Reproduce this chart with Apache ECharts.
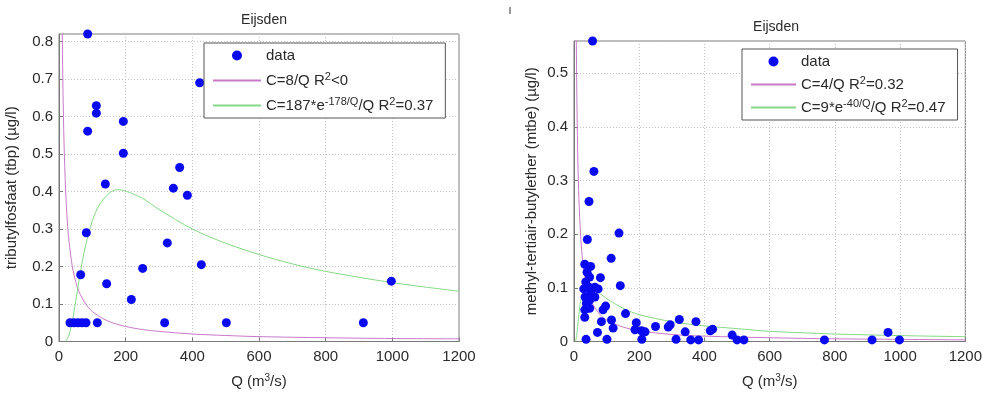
<!DOCTYPE html>
<html>
<head>
<meta charset="utf-8">
<script src="https://cdn.jsdelivr.net/npm/echarts@6/dist/echarts.min.js"></script>
<style>
html,body{margin:0;padding:0;background:#fff;}
#c{width:985px;height:394px;}
</style>
</head>
<body>
<div id="c"></div>
<script>
// ---------- data ----------
const chartTitle = 'Eijsden';
const xTicks = [0, 200, 400, 600, 800, 1000, 1200];
const yTicksLeft = [0, 0.1, 0.2, 0.3, 0.4, 0.5, 0.6, 0.7, 0.8];
const yTicksRight = [0, 0.1, 0.2, 0.3, 0.4, 0.5];

// left panel: tributylfosfaat
const tbpData = [
  [86,0.82],[112,0.629],[112,0.609],[86,0.561],[193,0.587],[193,0.502],[139,0.42],
  [362,0.464],[343,0.409],[385,0.39],[422,0.69],[82,0.29],[325,0.263],[427,0.205],
  [251,0.195],[65,0.178],[143,0.154],[217,0.112],
  [33,0.05],[45,0.05],[57,0.05],[69,0.05],[81,0.05],[115,0.05],[317,0.05],[502,0.05],
  [997,0.161],[913,0.05]
];
const tbpFitInv = [
  [7,1.14],[9,0.889],[10,0.8],[12,0.667],[15,0.533],[20,0.4],[25,0.32],[30,0.267],[40,0.2],
  [50,0.16],[60,0.133],[80,0.1],[100,0.08],[130,0.062],[160,0.05],[200,0.04],[250,0.032],
  [300,0.027],[400,0.02],[500,0.016],[600,0.013],[800,0.01],[1000,0.008],[1200,0.007]
];
const tbpFitExp = [
  [20,0.001],[30,0.017],[40,0.055],[50,0.107],[60,0.162],[70,0.213],[80,0.256],[100,0.322],
  [120,0.363],[150,0.395],[175,0.405],[200,0.401],[250,0.382],[300,0.352],[400,0.3],
  [500,0.262],[600,0.232],[700,0.207],[800,0.187],[1000,0.157],[1200,0.134]
];

// right panel: mtbe
const mtbeData = [
  [57,0.56],[61,0.317],[46,0.261],[41,0.19],[138,0.202],[114,0.155],[142,0.104],[81,0.119],
  [33,0.144],[51,0.14],[40,0.129],[48,0.12],[36,0.111],[46,0.101],[30,0.098],[64,0.101],
  [51,0.09],[74,0.098],[34,0.083],[48,0.077],[64,0.083],[38,0.071],[33,0.059],[48,0.062],
  [33,0.045],[89,0.059],[97,0.066],[84,0.037],[115,0.04],[120,0.025],[72,0.017],[158,0.052],
  [191,0.035],[187,0.022],[207,0.02],[218,0.018],[250,0.028],[289,0.027],[295,0.031],
  [37,0.004],[101,0.004],[208,0.004],[313,0.004],[323,0.041],[341,0.018],[374,0.037],
  [358,0.003],[382,0.003],[418,0.02],[425,0.023],[485,0.012],[500,0.003],[521,0.003],
  [768,0.003],[914,0.003],[963,0.017],[998,0.003]
];
const mtbeFitInv = [
  [5,0.8],[6,0.667],[7,0.571],[8,0.5],[10,0.4],[12,0.333],[15,0.267],[20,0.2],[25,0.16],
  [30,0.133],[40,0.1],[50,0.08],[60,0.067],[80,0.05],[100,0.04],[150,0.027],[200,0.02],
  [300,0.013],[400,0.01],[600,0.007],[800,0.005],[1000,0.004],[1200,0.003]
];
const mtbeFitExp = [
  [5,0.0],[10,0.02],[15,0.05],[20,0.075],[30,0.094],[40,0.1],[50,0.1],[70,0.094],[100,0.08],
  [150,0.062],[200,0.05],[300,0.037],[400,0.029],[500,0.024],[600,0.019],[800,0.014],
  [1000,0.011],[1200,0.009]
];

const legendNames = {
  dataL: 'data',
  invL: 'C=8/Q R{sup|2}<0',
  expL: 'C=187*e{sup|-178/Q}/Q R{sup|2}=0.37',
  dataR: 'data',
  invR: 'C=4/Q R{sup|2}=0.32',
  expR: 'C=9*e{sup|-40/Q}/Q R{sup|2}=0.47'
};

// ---------- styling ----------
const FONT = '"Liberation Sans", Arial, Helvetica, sans-serif';
const AXIS_COL = '#7a7a7a';
const TEXT_COL = '#2a2a2a';
const MAGENTA = '#c879c8';
const GREEN = '#86d886';
const BLUE = '#0a0af0';

function xAxisCfg(gi) {
  return {
    type: 'value', gridIndex: gi, min: xTicks[0], max: xTicks[xTicks.length - 1],
    interval: xTicks[1] - xTicks[0],
    name: 'Q (m{sup|3}/s)', nameLocation: 'middle', nameGap: 32,
    nameTextStyle: { fontFamily: FONT, fontSize: 15, color: TEXT_COL,
      rich: { sup: { fontSize: 10, verticalAlign: 'top', padding: [0,0,6,0], fontFamily: FONT, color: TEXT_COL } } },
    axisLine: { lineStyle: { color: AXIS_COL, width: 1 } },
    axisTick: { inside: true, length: 4, lineStyle: { color: AXIS_COL } },
    axisLabel: { fontFamily: FONT, fontSize: 15, color: TEXT_COL, margin: 8,
      formatter: function (v) { return String(v); } },
    splitLine: { show: true, lineStyle: { color: '#c4c4c4', type: [1, 2], width: 1 } }
  };
}
function yAxisCfg(gi, ticks, max, name, gap) {
  return {
    type: 'value', gridIndex: gi, min: ticks[0], max: max, interval: ticks[1] - ticks[0],
    name: name, nameLocation: 'middle', nameGap: gap,
    nameTextStyle: { fontFamily: FONT, fontSize: 15, color: TEXT_COL },
    axisLine: { lineStyle: { color: AXIS_COL, width: 1 } },
    axisTick: { inside: true, length: 4, lineStyle: { color: AXIS_COL } },
    axisLabel: { fontFamily: FONT, fontSize: 15, color: TEXT_COL, margin: 6, showMaxLabel: false,
      formatter: function (v) { return String(v); } },
    splitLine: { show: true, lineStyle: { color: '#c4c4c4', type: [1, 2], width: 1 } }
  };
}
function legendCfg(left, top, names, iw, gap) {
  return {
    left: left, top: top, orient: 'vertical',
    data: names.map(function (n, i) {
      return i === 0 ? { name: n } : { name: n, itemStyle: { opacity: 0 } };
    }),
    backgroundColor: '#fff', borderColor: '#555', borderWidth: 1,
    padding: [3, 12, 3, 8], itemGap: gap, itemWidth: iw, itemHeight: 10,
    formatter: function (n) { return legendNames[n]; },
    textStyle: { fontFamily: FONT, fontSize: 15, color: TEXT_COL, lineHeight: 19,
      rich: { sup: { fontSize: 11, verticalAlign: 'top', lineHeight: 19, fontFamily: FONT, color: TEXT_COL } } }
  };
}

const chart = echarts.init(document.getElementById('c'), null, { renderer: 'canvas' });
chart.setOption({
  animation: false,
  backgroundColor: '#fff',
  title: [
    { text: chartTitle, left: 259, top: 8, textAlign: 'center',
      textStyle: { fontFamily: FONT, fontSize: 14, fontWeight: 'normal', color: TEXT_COL } },
    { text: chartTitle, left: 771, top: 15, textAlign: 'center',
      textStyle: { fontFamily: FONT, fontSize: 14, fontWeight: 'normal', color: TEXT_COL } }
  ],
  graphic: [
    { type: 'line', shape: { x1: 510, y1: 7, x2: 510, y2: 14 }, style: { stroke: '#333', lineWidth: 1 } }
  ],
  grid: [
    { left: 59, top: 34, width: 400, height: 311, show: true, borderColor: AXIS_COL, borderWidth: 1, backgroundColor: 'transparent' },
    { left: 574, top: 41, width: 394, height: 304, show: true, borderColor: AXIS_COL, borderWidth: 1, backgroundColor: 'transparent' }
  ],
  xAxis: [xAxisCfg(0), xAxisCfg(1)],
  yAxis: [
    yAxisCfg(0, yTicksLeft, 0.82, 'tributylfosfaat (tbp) (µg/l)', 40),
    yAxisCfg(1, yTicksRight, 0.56, 'methyl-tertiair-butylether (mtbe) (µg/l)', 35)
  ],
  legend: [
    legendCfg(204, 43, ['dataL', 'invL', 'expL'], 48, 6),
    legendCfg(742, 49, ['dataR', 'invR', 'expR'], 45, 4)
  ],
  series: [
    { name: 'invL', type: 'line', xAxisIndex: 0, yAxisIndex: 0, data: tbpFitInv, smooth: 0.3,
      symbol: 'none', showSymbol: false, lineStyle: { color: MAGENTA, width: 1 }, itemStyle: { color: MAGENTA }, clip: true, z: 2 },
    { name: 'expL', type: 'line', xAxisIndex: 0, yAxisIndex: 0, data: tbpFitExp, smooth: 0.3,
      symbol: 'none', showSymbol: false, lineStyle: { color: GREEN, width: 1 }, itemStyle: { color: GREEN }, clip: true, z: 2 },
    { name: 'dataL', type: 'scatter', xAxisIndex: 0, yAxisIndex: 0, data: tbpData, symbol: 'circle',
      symbolSize: 9, itemStyle: { color: BLUE, opacity: 1 }, clip: false, z: 3 },
    { name: 'invR', type: 'line', xAxisIndex: 1, yAxisIndex: 1, data: mtbeFitInv, smooth: 0.3,
      symbol: 'none', showSymbol: false, lineStyle: { color: MAGENTA, width: 1 }, itemStyle: { color: MAGENTA }, clip: true, z: 2 },
    { name: 'expR', type: 'line', xAxisIndex: 1, yAxisIndex: 1, data: mtbeFitExp, smooth: 0.3,
      symbol: 'none', showSymbol: false, lineStyle: { color: GREEN, width: 1 }, itemStyle: { color: GREEN }, clip: true, z: 2 },
    { name: 'dataR', type: 'scatter', xAxisIndex: 1, yAxisIndex: 1, data: mtbeData, symbol: 'circle',
      symbolSize: 9, itemStyle: { color: BLUE, opacity: 1 }, clip: false, z: 3 }
  ]
});
</script>
</body>
</html>
